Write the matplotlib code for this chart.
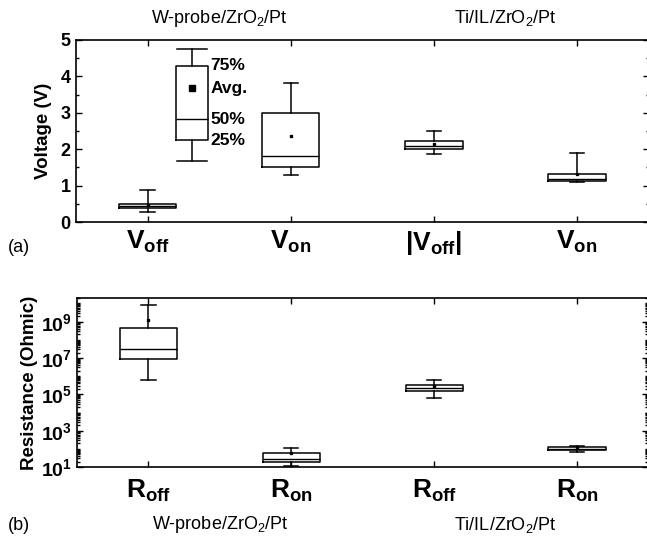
import numpy as np
import matplotlib
matplotlib.use('Agg')
import matplotlib.pyplot as plt
from matplotlib.ticker import FixedLocator, LogLocator, NullFormatter

plt.rcParams['font.family'] = ['Liberation Sans', 'DejaVu Sans']
plt.rcParams['mathtext.fontset'] = 'custom'
plt.rcParams['mathtext.rm'] = 'Liberation Sans'
plt.rcParams['mathtext.bf'] = 'Liberation Sans:bold'
plt.rcParams['mathtext.it'] = 'Liberation Sans:italic'

# 数据
v_labels = [r'$\mathbf{V_{off}}$', r'$\mathbf{V_{on}}$', r'$\mathbf{|V_{off}|}$', r'$\mathbf{V_{on}}$']
v_whislo = [0.28, 1.29, 1.87, 1.11]
v_q1 = [0.39, 1.52, 2.00, 1.13]
v_med = [0.45, 1.81, 2.10, 1.17]
v_q3 = [0.49, 3.00, 2.22, 1.31]
v_whishi = [0.89, 3.81, 2.50, 1.90]
v_mean = [0.47, 2.36, 2.14, 1.32]

# 图例用的示意箱
key_pos = 1.31
key_stats = dict(whislo=1.67, q1=2.25, med=2.82, q3=4.29, whishi=4.75, mean=3.67)
key_text = ['75%', 'Avg.', '50%', '25%']

r_labels = [r'$\mathbf{R_{off}}$', r'$\mathbf{R_{on}}$', r'$\mathbf{R_{off}}$', r'$\mathbf{R_{on}}$']
r_whislo = [6e5, 11, 6.5e4, 64]
r_q1 = [8.5e6, 18, 1.55e5, 86]
r_med = [3e7, 28, 2.2e5, 100]
r_q3 = [4.5e8, 57, 3.1e5, 130]
r_whishi = [8e9, 115, 6e5, 140]
r_mean = [1.2e9, 60, 2.8e5, 130]

groups = ['W-probe/ZrO$_2$/Pt', 'Ti/IL/ZrO$_2$/Pt']
pos = [1, 2, 3, 4]


def make_stats(lo, q1, med, q3, hi, mean):
    return [dict(whislo=a, q1=b, med=c, q3=d, whishi=e, mean=f, fliers=[])
            for a, b, c, d, e, f in zip(lo, q1, med, q3, hi, mean)]


box_kw = dict(showmeans=True, showfliers=False, patch_artist=False,
              boxprops=dict(color='black', linewidth=1.1),
              whiskerprops=dict(color='black', linewidth=1.1),
              capprops=dict(color='black', linewidth=1.1),
              medianprops=dict(color='black', linewidth=1.0))


def style_axes(ax):
    ax.tick_params(which='both', direction='in', top=True, right=True, width=1)
    ax.tick_params(which='major', length=4)
    ax.tick_params(which='minor', length=2.5)
    ax.tick_params(axis='x', which='minor', top=False, bottom=False)
    for s in ax.spines.values():
        s.set_linewidth(1.2)


fig = plt.figure(figsize=(6.47, 5.36), dpi=100)

## (a) 电压
ax1 = fig.add_axes([0.1175, 0.5858, 0.885, 0.3396])
ax1.bxp(make_stats(v_whislo, v_q1, v_med, v_q3, v_whishi, v_mean), positions=pos,
        widths=0.4, capwidths=0.1,
        meanprops=dict(marker='s', markersize=2, markerfacecolor='black', markeredgecolor='black'),
        **box_kw)
ax1.bxp([dict(key_stats, fliers=[])], positions=[key_pos], widths=0.23, capwidths=0.21,
        meanprops=dict(marker='s', markersize=5, markerfacecolor='black', markeredgecolor='black'),
        **box_kw)
for t, yv in zip(key_text, [key_stats['q3'], key_stats['mean'], key_stats['med'], key_stats['q1']]):
    ax1.text(key_pos + 0.13, yv, t, fontsize=12.5, fontweight='bold', va='center', ha='left')

ax1.set_xlim(0.5, 4.5)
ax1.set_ylim(0, 5)
ax1.set_xticks(pos)
ax1.set_xticklabels(v_labels, fontsize=19)
ax1.set_yticks(np.arange(0, 6, 1))
ax1.yaxis.set_minor_locator(FixedLocator(np.arange(0.5, 5, 1)))
ax1.set_yticklabels([str(i) for i in range(6)], fontsize=13, fontweight='bold')
ax1.set_ylabel('Voltage (V)', fontsize=13.5, fontweight='bold', labelpad=6)
style_axes(ax1)
ax1.tick_params(axis='x', pad=5)
ax1.tick_params(axis='y', pad=4)
for i, g in enumerate(groups):
    ax1.text(1.5 + 2 * i, 1.12, g, transform=ax1.get_xaxis_transform(),
             ha='center', va='center', fontsize=13)

## (b) 电阻
ax2 = fig.add_axes([0.119, 0.1287, 0.8833, 0.3153])
ax2.bxp(make_stats(r_whislo, r_q1, r_med, r_q3, r_whishi, r_mean), positions=pos,
        widths=0.4, capwidths=0.1,
        meanprops=dict(marker='s', markersize=2, markerfacecolor='black', markeredgecolor='black'),
        **box_kw)
ax2.set_yscale('log')
ax2.set_xlim(0.5, 4.5)
ax2.set_ylim(10, 2e10)
ax2.set_xticks(pos)
ax2.set_xticklabels(r_labels, fontsize=19)
ax2.yaxis.set_major_locator(FixedLocator([1e1, 1e3, 1e5, 1e7, 1e9]))
ax2.set_yticklabels([r'$\mathbf{10^{%d}}$' % k for k in [1, 3, 5, 7, 9]], fontsize=14)
ax2.yaxis.set_minor_locator(LogLocator(base=10, subs=np.arange(1, 10), numticks=200))
ax2.yaxis.set_minor_formatter(NullFormatter())
ax2.set_ylabel('Resistance (Ohmic)', fontsize=13.5, fontweight='bold', labelpad=2)
style_axes(ax2)
ax2.tick_params(axis='x', pad=8)
for i, g in enumerate(groups):
    ax2.text(1.5 + 2 * i, -0.343, g, transform=ax2.get_xaxis_transform(),
             ha='center', va='center', fontsize=13)

fig.text(8 / 647, 1 - 248 / 536, '(a)', fontsize=13, va='center', ha='left')
fig.text(8 / 647, 1 - 525 / 536, '(b)', fontsize=13, va='center', ha='left')

fig.savefig('out.png', dpi=100)
